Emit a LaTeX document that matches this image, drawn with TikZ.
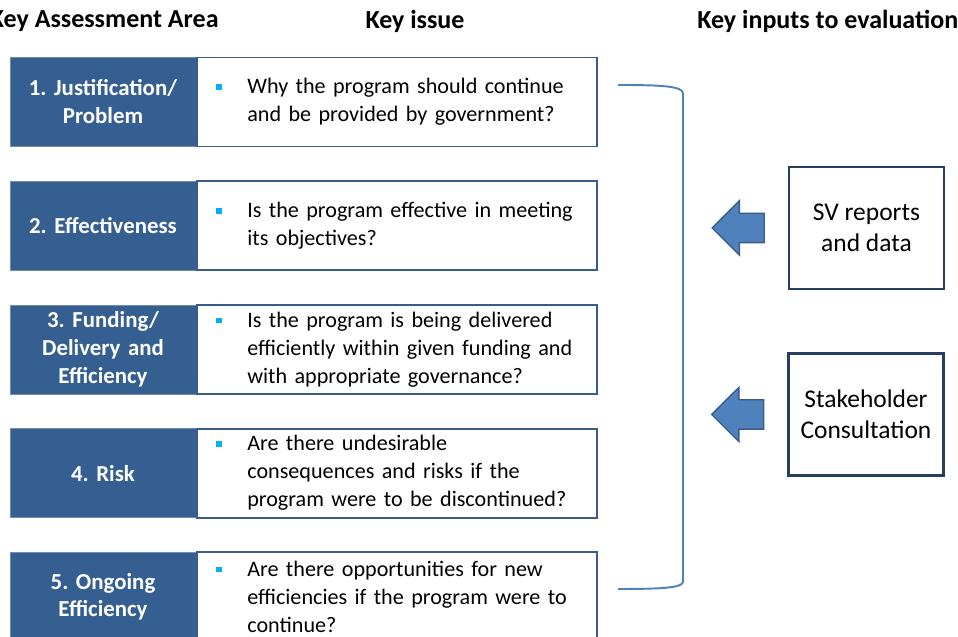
\documentclass[tikz,border=0pt]{standalone}
\usepackage{fontspec}
\setmainfont{Carlito}
\usetikzlibrary{positioning, calc, shapes.arrows}
\usepackage{xcolor}
\frenchspacing

\definecolor{areablue}{HTML}{365F91}
\definecolor{edgeblue}{HTML}{385D8A}
\definecolor{linkblue}{HTML}{4F81BD}
\definecolor{navy}{HTML}{243F60}
\definecolor{bulletcyan}{HTML}{00B0F0}

% bullet square, then the question as a hanging block
\newcommand{\keyissue}[1]{\hspace*{3.8mm}\makebox[6.2mm][l]{\textcolor{bulletcyan}{\rule[0.8mm]{1.1mm}{1.1mm}}}%
  \parbox[t]{6.8cm}{\raggedright #1}}

\begin{document}
\begin{tikzpicture}[node distance=6.8mm,
  head/.style={font=\bfseries\fontsize{14.8}{17}\selectfont, inner sep=0pt},
  area/.style={fill=areablue, draw=areablue!70!white, line width=0.4pt, text=white,
               font=\bfseries\fontsize{13}{15.9}\selectfont, align=center,
               text width=3.5cm, minimum width=3.72cm, minimum height=1.78cm, inner sep=0pt},
  issue/.style={draw=edgeblue, line width=1.1pt, fill=white, align=left,
                font=\fontsize{12.6}{15.9}\selectfont, text width=8cm,
                minimum width=8cm, minimum height=1.78cm, inner sep=0pt},
  input/.style={draw=navy, line width=1.2pt, align=center,
                font=\fontsize{14.5}{17.7}\selectfont,
                minimum width=3.1cm, minimum height=2.44cm},
  inarrow/.style={single arrow, shape border rotate=180, fill=linkblue, draw=edgeblue,
                  line width=0.8pt, minimum height=1.04cm, minimum width=1.06cm,
                  inner xsep=0pt, inner ysep=2.8mm, single arrow head extend=2.5mm},
  bracket/.style={draw=linkblue, line width=1.1pt}]
  \useasboundingbox (0,0) rectangle (19.16,-12.74);

  % column headings
  \node[head, anchor=east] (hdarea) at (4.38,-0.42) {Key Assessment Area};
  \node[head] (hdissue) at (8.3,-0.42) {Key issue};
  \node[head, anchor=west] (hdinput) at (13.94,-0.42) {Key inputs to evaluation};

  % assessment areas with their key issue
  \node[area] (area1) at (2.06,-2.04) {1. Justification/\\Problem};
  \node[issue, right=0mm of area1] (issue1)
        {\keyissue{Why the program should continue\\and be provided by government?}};

  \node[area, below=of area1] (area2) {2. Effectiveness};
  \node[issue, right=0mm of area2] (issue2)
        {\keyissue{Is the program effective in meeting\\its objectives?}};

  \node[area, below=of area2] (area3) {3. Funding/\\Delivery and\\Efficiency};
  \node[issue, right=0mm of area3] (issue3)
        {\keyissue{Is the program is being delivered\\efficiently within given funding and\\with appropriate governance?}};

  \node[area, below=of area3] (area4) {4. Risk};
  \node[issue, right=0mm of area4] (issue4)
        {\keyissue{Are there undesirable\\consequences and risks if the\\program were to be discontinued?}};

  \node[area, below=of area4] (area5) {5. Ongoing\\Efficiency};
  \node[issue, right=0mm of area5] (issue5)
        {\keyissue{Are there opportunities for new\\efficiencies if the program were to\\continue?}};

  % bracket gathering all five rows
  \coordinate (brtop) at (12.36,-1.70);
  \coordinate (brbot) at (12.36,-11.78);
  \draw[bracket] (brtop) .. controls (13.2,-1.70) and (13.64,-1.72) .. (13.66,-1.86)
        -- (13.66,-11.64) .. controls (13.64,-11.76) and (13.2,-11.78) .. (brbot);

  % inputs feeding the evaluation
  \node[input] (sv) at (17.33,-4.56) {SV reports\\and data};
  \node[input] (stake) at (17.32,-8.29) {Stakeholder\\Consultation};
  \node[inarrow, left=4.6mm of sv] (svarrow) {};
  \node[inarrow, left=4.6mm of stake] (stakearrow) {};
\end{tikzpicture}
\end{document}
